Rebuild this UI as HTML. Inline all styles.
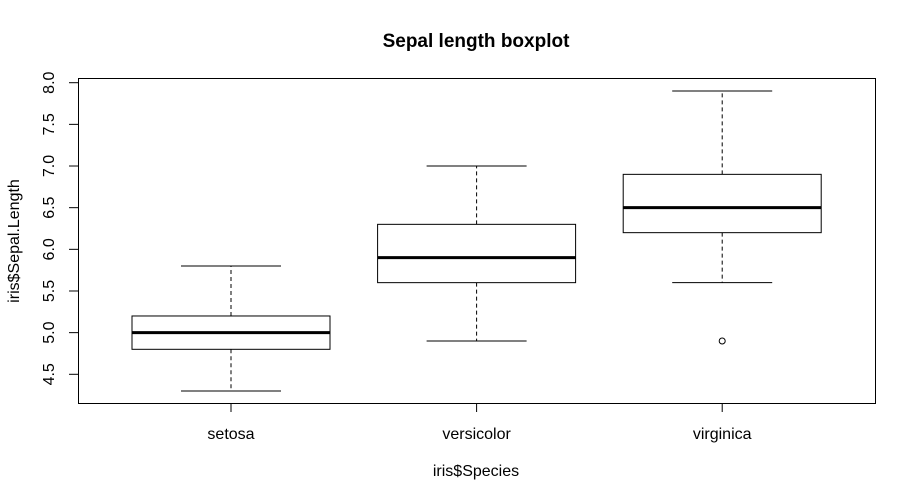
<!DOCTYPE html>
<html><head><meta charset="utf-8"><style>body{margin:0;background:#fff}svg{display:block}text{font-family:"Liberation Sans",Arial,sans-serif;fill:#000}</style></head>
<body>
<svg id="c" width="915" height="501" viewBox="0 0 915 501" xmlns="http://www.w3.org/2000/svg">
<text x="476" y="47" font-size="19" font-weight="bold" text-anchor="middle">Sepal length boxplot</text>
<rect x="78.5" y="78.5" width="797" height="325" fill="none" stroke="#000" stroke-width="1"/>
<text x="476" y="476" font-size="16" text-anchor="middle">iris$Species</text>
<text transform="translate(19,241) rotate(-90)" font-size="16" text-anchor="middle">iris$Sepal.Length</text>
<g id="marks"></g>
</svg>
<script>
const categories=["setosa","versicolor","virginica"];
const mins=[4.3,4.9,5.6];
const q1s=[4.8,5.6,6.2];
const medians=[5.0,5.9,6.5];
const q3s=[5.2,6.3,6.9];
const maxs=[5.8,7.0,7.9];
const outliers=[[],[],[4.9]];
const yTicks=[4.5,5.0,5.5,6.0,6.5,7.0,7.5,8.0];
const yTickLabels=["4.5","5.0","5.5","6.0","6.5","7.0","7.5","8.0"];
const NS="http://www.w3.org/2000/svg";
const g=document.getElementById('marks');
function y(v){return 374.3-(v-4.5)*(374.3-82.7)/3.5;}
function x(i){return 231+i*245.6;}
function mk(t,a,p){const e=document.createElementNS(NS,t);for(const k in a)e.setAttribute(k,a[k]);(p||g).appendChild(e);return e;}
yTicks.forEach((v,i)=>{
 const l=mk('line',{x1:69,x2:78,y1:y(v),y2:y(v),stroke:'#000'});
 
 
 const t=mk('text',{transform:`translate(54,${y(v)}) rotate(-90)`,'font-size':16,'text-anchor':'middle'});
 t.textContent=yTickLabels[i];
 
 
});
categories.forEach((c,i)=>{
 const cx=x(i),hw=99,cw=50;
 const grp=mk('g',{});
 
 
 mk('line',{x1:cx,x2:cx,y1:y(q3s[i]),y2:y(maxs[i]),stroke:'#000','stroke-dasharray':'4,3'},grp);
 mk('line',{x1:cx,x2:cx,y1:y(q1s[i]),y2:y(mins[i]),stroke:'#000','stroke-dasharray':'4,3'},grp);
 mk('line',{x1:cx-cw,x2:cx+cw,y1:y(maxs[i]),y2:y(maxs[i]),stroke:'#000'},grp);
 mk('line',{x1:cx-cw,x2:cx+cw,y1:y(mins[i]),y2:y(mins[i]),stroke:'#000'},grp);
 mk('rect',{x:cx-hw,y:y(q3s[i]),width:2*hw,height:y(q1s[i])-y(q3s[i]),fill:'#fff',stroke:'#000'},grp);
 mk('line',{x1:cx-hw,x2:cx+hw,y1:y(medians[i]),y2:y(medians[i]),stroke:'#000','stroke-width':3},grp);
 outliers[i].forEach(o=>{const p=mk('circle',{cx:cx,cy:y(o),r:3,fill:'none',stroke:'#000'},grp);
  
  });
 const tk=mk('line',{x1:cx,x2:cx,y1:404,y2:412,stroke:'#000'});
 
 
 const t=mk('text',{x:cx,y:439,'font-size':16,'text-anchor':'middle'});
 t.textContent=c;
 
 
});
</script>
</body></html>
